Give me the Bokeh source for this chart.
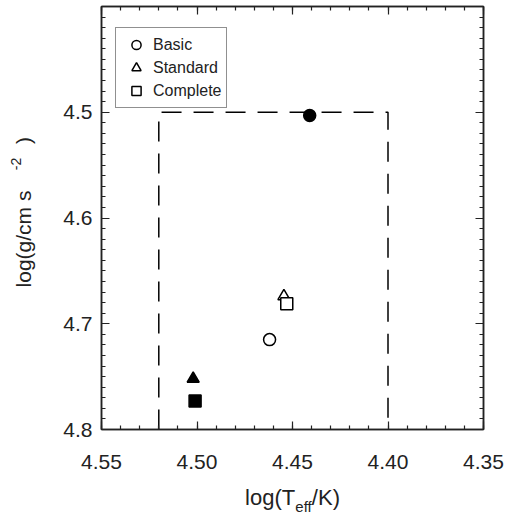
import numpy as np
from bokeh.plotting import figure
from bokeh.models import (Range1d, FixedTicker, PrintfTickFormatter, LinearAxis,
                          Legend, LegendItem, ColumnDataSource, CustomJSTickFormatter)
from bokeh.embed import file_html
from bokeh.resources import INLINE

# ---- data ----
models = ["Basic", "Standard", "Complete"]
markers = ["circle", "triangle", "square"]
open_teff = [4.462, 4.4545, 4.453]
open_logg = [4.715, 4.674, 4.681]
filled_teff = [4.441, 4.502, 4.501]
filled_logg = [4.503, 4.752, 4.773]
box_teff = [4.52, 4.52, 4.40, 4.40]
box_logg = [4.80, 4.50, 4.50, 4.80]
x_ticks = [4.55, 4.50, 4.45, 4.40, 4.35]
y_ticks = [4.5, 4.6, 4.7, 4.8]
x_title = ["log(T", "eff", "/K)"]
y_title = ["log(g/cm s", "-2", ")"]

FONT = "Liberation Sans"
TXT = "#222222"
X0, X1 = 4.55, 4.35
Y0, Y1 = 4.80, 4.40
FW, FH = 382, 423  # frame size in px

p = figure(width=507, height=519, output_backend="svg", toolbar_location=None,
           x_range=Range1d(X0, X1), y_range=Range1d(Y0, Y1),
           min_border_left=101, min_border_right=24, min_border_top=6,
           min_border_bottom=90)
p.background_fill_color = "white"
p.border_fill_color = "white"
p.outline_line_color = "#222222"
p.outline_line_width = 1.5
p.xgrid.visible = False
p.ygrid.visible = False

x_minor = list(np.round(np.arange(4.35, 4.5501, 0.01), 2))
y_minor = list(np.round(np.arange(4.40, 4.8001, 0.01), 2))
xt = FixedTicker(ticks=x_ticks, minor_ticks=x_minor)
yt = FixedTicker(ticks=y_ticks, minor_ticks=y_minor)
blank = CustomJSTickFormatter(code="return ''")


def style(ax, show):
    ax.axis_line_color = "#222222"
    ax.axis_line_width = 1.5
    ax.major_tick_in = 8
    ax.major_tick_out = 0
    ax.minor_tick_in = 4
    ax.minor_tick_out = 0
    ax.major_tick_line_color = "#222222"
    ax.minor_tick_line_color = "#222222"
    ax.major_tick_line_width = 1.2
    ax.minor_tick_line_width = 1.2
    ax.major_label_text_font = FONT
    ax.major_label_text_color = TXT
    ax.major_label_text_font_size = "21px"
    if not show:
        ax.formatter = blank
        ax.major_label_standoff = 0
    ax.axis_label = None


p.xaxis.ticker = xt
p.xaxis.formatter = PrintfTickFormatter(format="%.2f")
p.yaxis.ticker = yt
p.yaxis.formatter = PrintfTickFormatter(format="%.1f")
style(p.xaxis[0], True)
style(p.yaxis[0], True)
p.xaxis.major_label_standoff = 25
p.yaxis.major_label_standoff = 9

top = LinearAxis(ticker=xt)
right = LinearAxis(ticker=yt)
style(top, False)
style(right, False)
p.add_layout(top, "above")
p.add_layout(right, "right")


# ---- axis titles built from tick-label-only axes (allow sub/superscripts) ----
def title_axis(place, pos, texts, size, standoff, vertical=False):
    ax = LinearAxis(ticker=FixedTicker(ticks=pos, minor_ticks=[]))
    ax.major_label_overrides = {t: s for t, s in zip(pos, texts)}
    ax.axis_line_color = None
    ax.major_tick_line_color = None
    ax.minor_tick_line_color = None
    ax.major_tick_in = 0
    ax.major_tick_out = 0
    ax.major_label_standoff = standoff
    ax.major_label_text_font = FONT
    ax.major_label_text_font_size = size
    ax.major_label_text_color = TXT
    if vertical:
        ax.major_label_orientation = "vertical"
    p.add_layout(ax, place)


xpx = (X0 - X1) / FW   # data units per px (x decreases to the right)
ypx = (Y0 - Y1) / FH
xc = (X0 + X1) / 2
yc = (Y0 + Y1) / 2
# horizontal pixel offsets of the pieces' centres from the frame centre
xa = [xc - (-22.4) * xpx, xc - 33.4 * xpx]
xb = [xc - 11.0 * xpx]
title_axis("below", xa, [x_title[0], x_title[2]], "22px", 13, False)
title_axis("below", xb, [x_title[1]], "15px", -15)

# vertical pixel offsets (downwards positive) of the pieces' centres
ya = [yc + 21.0 * ypx, yc - 77.5 * ypx]
yb = [yc - 54.0 * ypx]
title_axis("left", ya, [y_title[0], y_title[2]], "21px", 26, True)
title_axis("left", yb, [y_title[1]], "14px", -12, True)

# ---- dashed box ----
p.line(box_teff, box_logg, line_color="black", line_width=1.5, line_dash="20 12")

# ---- points ----
src_open = ColumnDataSource(dict(teff=open_teff, logg=open_logg, marker=markers, model=models))
src_fill = ColumnDataSource(dict(teff=filled_teff, logg=filled_logg, marker=markers, model=models))
r_open = p.scatter("teff", "logg", marker="marker", source=src_open, size=12,
                   fill_color="white", line_color="black", line_width=1.5)
p.scatter("teff", "logg", marker="marker", source=src_fill, size=12,
          fill_color="black", line_color="black", line_width=1.5)

items = [LegendItem(label=m, renderers=[r_open], index=i) for i, m in enumerate(models)]
legend = Legend(items=items, location=(14, 321), padding=5, spacing=0, margin=0,
                glyph_width=30, glyph_height=23, label_height=23, label_standoff=2,
                label_text_font=FONT, label_text_font_size="16px", label_text_color=TXT,
                border_line_color="#222222", border_line_width=1.2,
                background_fill_color="white", background_fill_alpha=1.0)
p.add_layout(legend)

open("out.html", "w").write(file_html(p, INLINE))
